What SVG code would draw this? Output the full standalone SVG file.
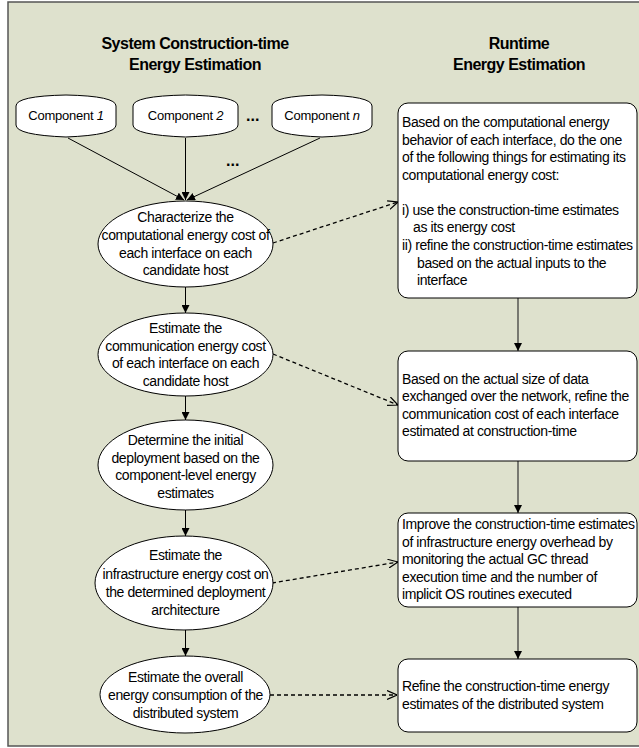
<svg xmlns="http://www.w3.org/2000/svg" width="639" height="748" viewBox="0 0 639 748">
<defs>
<marker id="solid" viewBox="0 0 10 10" refX="10" refY="5" markerWidth="8" markerHeight="8" markerUnits="userSpaceOnUse" orient="auto">
<path d="M0,0 L10,5 L0,10 Z" fill="#000"/>
</marker>
<marker id="open" viewBox="0 0 10 10" refX="10" refY="5" markerWidth="10" markerHeight="10" markerUnits="userSpaceOnUse" orient="auto">
<path d="M0,0.5 L10,5 L0,9.5" fill="none" stroke="#000" stroke-width="1.2"/>
</marker>
</defs>
<style>
.bg{fill:#dee1cd;stroke:#555;stroke-width:1.5}
.shape{fill:#fff;stroke:#000;stroke-width:1}
.head{font-family:"Liberation Sans",Arial,sans-serif;font-weight:bold;font-size:16px;letter-spacing:-0.5px;text-anchor:middle;fill:#000}
.t{font-family:"Liberation Sans",Arial,sans-serif;font-size:14px;letter-spacing:-0.4px;fill:#000}
.c{text-anchor:middle}
.comp{font-family:"Liberation Sans",Arial,sans-serif;font-size:13px;letter-spacing:-0.25px;text-anchor:middle;fill:#000}
.dots{font-family:"Liberation Sans",Arial,sans-serif;font-size:16px;font-weight:bold;fill:#000}
.solid{stroke:#000;stroke-width:1;fill:none;marker-end:url(#solid)}
.solidr{stroke:#333;stroke-width:1.2;fill:none;marker-end:url(#solid)}
.dash{stroke:#000;stroke-width:1.3;fill:none;stroke-dasharray:4,3;marker-end:url(#open)}
</style>
<rect class="bg" x="8" y="2" width="640" height="744"/>
<g id="headings">
<text class="head" x="195" y="49">System Construction-time</text>
<text class="head" x="195" y="70">Energy Estimation</text>
<text class="head" x="519" y="49">Runtime</text>
<text class="head" x="519" y="70">Energy Estimation</text>
</g>
<g id="connectors">
<line class="solid" x1="68" y1="138" x2="184" y2="200"/>
<line class="solid" x1="185.5" y1="138" x2="185.5" y2="200"/>
<line class="solid" x1="320" y1="138" x2="187" y2="200"/>
<line class="solid" x1="185.5" y1="287" x2="185.5" y2="313"/>
<line class="solid" x1="185.5" y1="396" x2="185.5" y2="420"/>
<line class="solid" x1="185.5" y1="510" x2="185.5" y2="536"/>
<line class="solid" x1="185.5" y1="630" x2="185.5" y2="656"/>
<line class="solidr" x1="518" y1="298" x2="518" y2="351"/>
<line class="solidr" x1="518" y1="461" x2="518" y2="513"/>
<line class="solidr" x1="518" y1="607" x2="518" y2="659"/>
<line class="dash" x1="273" y1="243" x2="398" y2="202"/>
<line class="dash" x1="273" y1="354" x2="398" y2="405"/>
<line class="dash" x1="272" y1="583" x2="398" y2="562"/>
<line class="dash" x1="270" y1="695" x2="397" y2="695"/>
</g>
<g id="dots">
<text class="dots" x="246" y="121">...</text>
<text class="dots" x="226" y="166">...</text>
</g>
<g id="comp1">
<path class="shape" d="M16,106 Q16,96 66,95 Q116,96 116,106 L116,125 Q116,135 66,137 Q16,135 16,125 Z"/>
<text class="comp" x="66" y="120">Component <tspan font-style="italic">1</tspan></text>
</g>
<g id="comp2">
<path class="shape" d="M133,106 Q133,96 185.5,95 Q238,96 238,106 L238,125 Q238,135 185.5,137 Q133,135 133,125 Z"/>
<text class="comp" x="185.5" y="120">Component <tspan font-style="italic">2</tspan></text>
</g>
<g id="compn">
<path class="shape" d="M272,106 Q272,96 322,95 Q372,96 372,106 L372,125 Q372,135 322,137 Q272,135 272,125 Z"/>
<text class="comp" x="322" y="120">Component <tspan font-style="italic">n</tspan></text>
</g>
<g id="e1">
<ellipse class="shape" cx="185.5" cy="244" rx="87.5" ry="43"/>
<text class="t c" x="185.5" y="222">Characterize the</text>
<text class="t c" x="185.5" y="240">computational energy cost of</text>
<text class="t c" x="185.5" y="257.5">each interface on each</text>
<text class="t c" x="185.5" y="275">candidate host</text>
</g>
<g id="e2">
<ellipse class="shape" cx="185.5" cy="354.5" rx="87.5" ry="41.5"/>
<text class="t c" x="185.5" y="333">Estimate the</text>
<text class="t c" x="185.5" y="350.5">communication energy cost</text>
<text class="t c" x="185.5" y="368">of each interface on each</text>
<text class="t c" x="185.5" y="385.5">candidate host</text>
</g>
<g id="e3">
<ellipse class="shape" cx="185.5" cy="465" rx="87.5" ry="45"/>
<text class="t c" x="185.5" y="445">Determine the initial</text>
<text class="t c" x="185.5" y="462.5">deployment based on the</text>
<text class="t c" x="185.5" y="480">component-level energy</text>
<text class="t c" x="185.5" y="497.5">estimates</text>
</g>
<g id="e4">
<ellipse class="shape" cx="184" cy="583" rx="89" ry="47"/>
<text class="t c" x="185.5" y="560">Estimate the</text>
<text class="t c" x="185.5" y="578.5">infrastructure energy cost on</text>
<text class="t c" x="185.5" y="597">the determined deployment</text>
<text class="t c" x="185.5" y="614.5">architecture</text>
</g>
<g id="e5">
<ellipse class="shape" cx="185" cy="694.5" rx="85" ry="38.5"/>
<text class="t c" x="185.5" y="682">Estimate the overall</text>
<text class="t c" x="185.5" y="700">energy consumption of the</text>
<text class="t c" x="185.5" y="717.5">distributed system</text>
</g>
<g id="b1">
<rect class="shape" x="398" y="103" width="239" height="195" rx="10"/>
<text class="t" x="402" y="127">Based on the computational energy</text>
<text class="t" x="402" y="144.5">behavior of each interface, do the one</text>
<text class="t" x="402" y="162">of the following things for estimating its</text>
<text class="t" x="402" y="179.5">computational energy cost:</text>
<text class="t" x="402" y="214.5">i) use the construction-time estimates</text>
<text class="t" x="413" y="232">as its energy cost</text>
<text class="t" x="402" y="250">ii) refine the construction-time estimates</text>
<text class="t" x="417" y="267.5">based on the actual inputs to the</text>
<text class="t" x="417" y="285">interface</text>
</g>
<g id="b2">
<rect class="shape" x="398" y="351" width="239" height="110" rx="10"/>
<text class="t" x="402" y="383.5">Based on the actual size of data</text>
<text class="t" x="402" y="401">exchanged over the network, refine the</text>
<text class="t" x="402" y="418.5">communication cost of each interface</text>
<text class="t" x="402" y="436">estimated at construction-time</text>
</g>
<g id="b3">
<rect class="shape" x="398" y="513" width="239" height="94" rx="10"/>
<text class="t" x="402" y="529">Improve the construction-time estimates</text>
<text class="t" x="402" y="546.5">of infrastructure energy overhead by</text>
<text class="t" x="402" y="564">monitoring the actual GC thread</text>
<text class="t" x="402" y="581.5">execution time and the number of</text>
<text class="t" x="402" y="599">implicit OS routines executed</text>
</g>
<g id="b4">
<rect class="shape" x="398" y="659" width="239" height="73" rx="10"/>
<text class="t" x="402" y="691">Refine the construction-time energy</text>
<text class="t" x="402" y="708.5">estimates of the distributed system</text>
</g>
</svg>
